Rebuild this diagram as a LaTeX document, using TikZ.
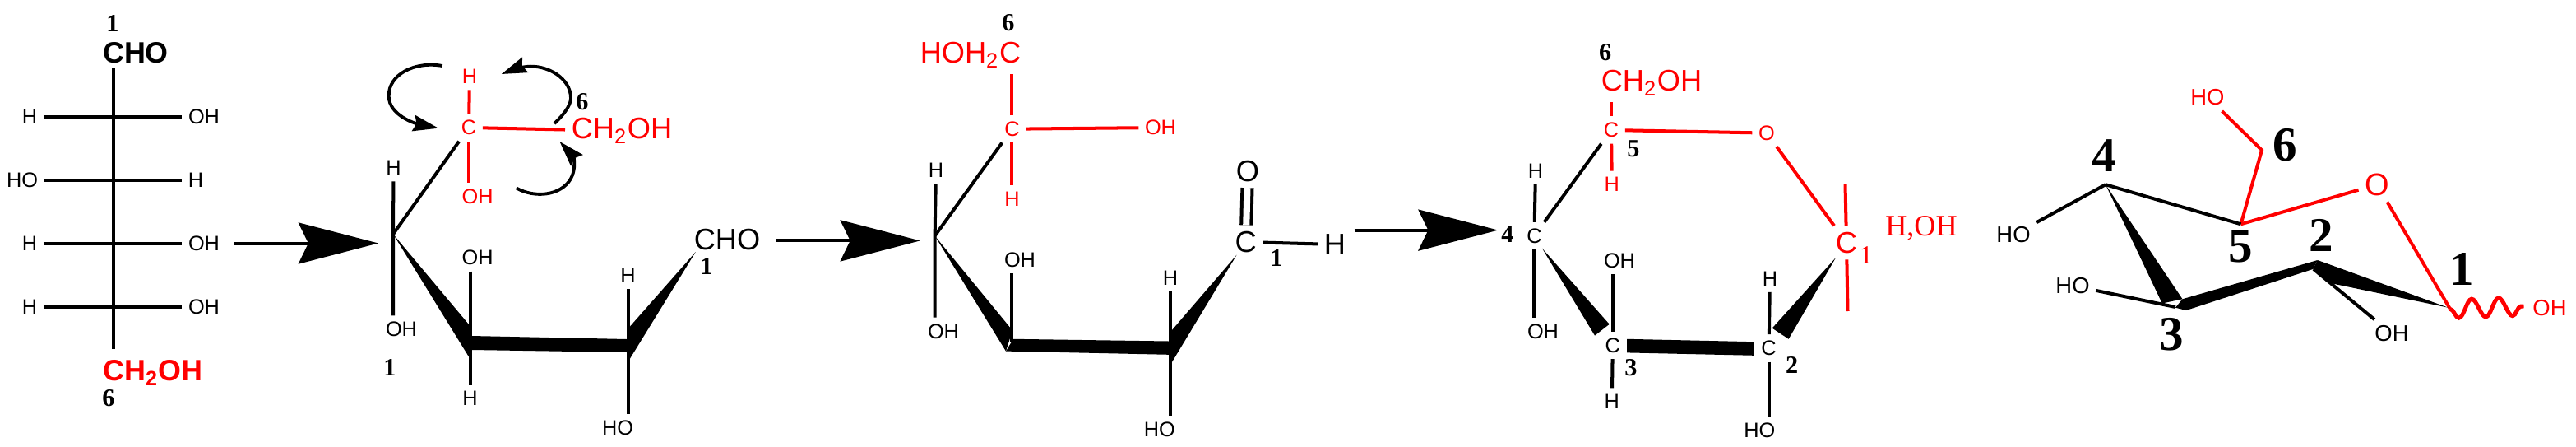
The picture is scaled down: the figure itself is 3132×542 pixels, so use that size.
\documentclass[tikz,border=0pt]{standalone}
\usepackage{fontspec}
\setmainfont{Liberation Sans}
\newfontfamily\numfont{Liberation Serif}
\usetikzlibrary{arrows.meta,decorations.pathmorphing}
\tikzset{
	atom/.style={font=\fontsize{7.2}{8}\selectfont, inner sep=2pt},
	bigatom/.style={font=\fontsize{10.3}{12}\selectfont, inner sep=2pt},
	boldatom/.style={font=\fontsize{10.2}{12}\selectfont\bfseries, inner sep=1.5pt},
	ringatom/.style={font=\fontsize{7.8}{9}\selectfont, inner sep=2pt},
	num/.style={font=\fontsize{8.6}{10}\selectfont\numfont\bfseries, inner sep=0pt},
	bignum/.style={font=\fontsize{16.8}{18}\selectfont\numfont\bfseries, inner sep=0pt},
	serif/.style={font=\fontsize{10.3}{12}\selectfont\numfont, inner sep=0pt},
	bond/.style={line width=1.14pt},
	rbond/.style={line width=1.14pt, red},
	bigarrow/.style={line width=1.14pt, -{Stealth[length=27.6pt,width=14.2pt,inset=3.4pt]}},
	curly/.style={line width=1.1pt, -{Stealth[length=8.7pt,width=5.5pt,inset=1pt]}}
}
\begin{document}
\begin{tikzpicture}[x=0.01cm, y=-0.01cm]
	\useasboundingbox (0,0) rectangle (3132,542);

	\coordinate (ac1) at (138,142);
	\coordinate (ac2) at (138,219);
	\coordinate (ac3) at (138,296);
	\coordinate (ac4) at (138,373);
	\node[boldatom] (acho) at (165,64) {CHO};
	\node[boldatom,red] (ach) at (186,453) {CH\textsubscript{2}OH};
	\node[num] (an1) at (137,29) {1};
	\node[num] (an6) at (132,484) {6};
	\node[atom] (ah1) at (36,142) {H};
	\node[atom] (aoh1) at (248,142) {OH};
	\node[atom] (aho2) at (27,219) {HO};
	\node[atom] (ah2) at (238,219) {H};
	\node[atom] (ah3) at (36,296) {H};
	\node[atom] (aoh3) at (248,296) {OH};
	\node[atom] (ah4) at (36,373) {H};
	\node[atom] (aoh4) at (248,373) {OH};
	\draw[bond,shorten >=2.3pt] (ac1 |- acho.south) -- (ac4 |- ach.north);
	\draw[bond] (ah1) -- (ac1) -- (aoh1);
	\draw[bond] (aho2) -- (ac2) -- (ah2);
	\draw[bond] (ah3) -- (ac3) -- (aoh3);
	\draw[bond] (ah4) -- (ac4) -- (aoh4);

	\coordinate (ar1) at (284,295.5);
	\coordinate (ar2) at (460,295.5);
	\draw[bigarrow] (ar1) -- (ar2);

	\coordinate (b4) at (478,284.4);
	\coordinate (b3) at (572,420);
	\node[atom,red] (bc) at (570,155) {C};
	\node[atom,red] (bh) at (571,93) {H};
	\node[atom,red] (boh) at (580.6,239) {OH};
	\node[bigatom,red] (bch) at (756,159) {CH\textsubscript{2}OH};
	\node[num] (bn6) at (708,124) {6};
	\node[atom] (bh4) at (478.5,204) {H};
	\node[atom] (boh4) at (488,400) {OH};
	\node[num] (bn1) at (474,447) {1};
	\node[atom] (boh3) at (580.6,313) {OH};
	\node[atom] (bh3) at (571.4,484) {H};
	\node[atom] (bh2) at (763.5,335) {H};
	\node[atom] (bho2) at (751,520) {HO};
	\node[bigatom] (bcho) at (884,291) {CHO};
	\node[num] (bn1b) at (859,323.5) {1};
	\draw[rbond] (bh) -- (bc);
	\draw[rbond] (bc) -- (bch);
	\draw[rbond] (bc) -- (bc |- boh.north);
	\draw[bond] (bc) -- (b4);
	\draw[bond] (bh4) -- (b4) -- (b4 |- boh4.north);
	\draw[bond] (boh3.south -| b3) -- (b3 |- bh3.north);
	\draw[bond] (bh2) -- (bh2 |- bho2.north);
	\fill (b4) -- (570.3,394.5) -- (571,435) -- cycle;
	\fill (573,408) -- (762,412) -- (762,428) -- (573,425) -- cycle;
	\fill (845.8,306) -- (764.7,398) -- (763.6,439.4) -- cycle;

	\coordinate (ca1) at (537.8,80);
	\coordinate (ca2) at (533,155.7);
	\coordinate (cb1) at (674,150);
	\coordinate (cb2) at (609.7,90);
	\coordinate (cc1) at (627.7,228.4);
	\coordinate (cc2) at (680.5,172);
	\draw[curly] (ca1) .. controls (505,74) and (472,90) .. (472.7,117) .. controls (473,140) and (505,150) .. (ca2);
	\draw[curly] (cb1) .. controls (690,135) and (694,125) .. (694,119) .. controls (694,95) and (665,78) .. (640,81) .. controls (630,82) and (620,86) .. (cb2);
	\draw[curly] (cc1) .. controls (650,241) and (682,238) .. (694,217) .. controls (701,205) and (697,190) .. (cc2);

	\coordinate (ar3) at (943.5,292.4);
	\coordinate (ar4) at (1118.8,292.4);
	\draw[bigarrow] (ar3) -- (ar4);

	\coordinate (c4) at (1136.6,286.5);
	\node[atom,red] (cc) at (1230.4,156.7) {C};
	\node[bigatom,red] (chohc) at (1180,67) {HOH\textsubscript{2}C};
	\node[num] (cn6) at (1226,27.7) {6};
	\node[atom,red] (coh) at (1411,155) {OH};
	\node[atom,red] (ch) at (1230.4,241.5) {H};
	\node[atom] (ch4) at (1138,207) {H};
	\node[atom] (coh4) at (1147,402.4) {OH};
	\node[atom] (coh3) at (1240,315.6) {OH};
	\node[atom] (ch2) at (1423,337.4) {H};
	\node[atom] (cho2) at (1409.8,521.8) {HO};
	\node[bigatom] (ccar) at (1514.7,294) {C};
	\node[bigatom] (co) at (1517,207.6) {O};
	\node[bigatom] (chb) at (1623,297) {H};
	\node[num] (cn1) at (1551.8,314) {1};
	\draw[rbond] (cc) -- (cc |- chohc.south);
	\draw[rbond] (cc) -- (coh);
	\draw[rbond] (cc) -- (ch);
	\draw[bond] (cc) -- (c4);
	\draw[bond] (ch4) -- (c4) -- (c4 |- coh4.north);
	\draw[bond] (coh3.south -| cc) -- (cc |- 0,415);
	\draw[bond] (ch2) -- (ch2 |- cho2.north);
	\draw[bond,double,double distance=2.3pt] (ccar) -- (co);
	\draw[bond] (ccar) -- (chb);
	\fill (c4) -- (1231,401.4) -- (1223,426.6) -- cycle;
	\fill (1232,411.8) -- (1421,414.5) -- (1421,430.8) -- (1223,426.6) -- cycle;
	\fill (1503.6,309.7) -- (1424.6,401.4) -- (1423,443) -- cycle;

	\coordinate (ar5) at (1646.5,279.6);
	\coordinate (ar6) at (1821.5,279.6);
	\draw[bigarrow] (ar5) -- (ar6);

	\node[atom] (dc4) at (1865.4,286.5) {C};
	\node[atom,red] (dc5) at (1959,158) {C};
	\node[atom] (dc3) at (1960.8,419.4) {C};
	\node[atom] (dc2) at (2150.6,422.8) {C};
	\node[bigatom,red] (dc1) at (2245,294.8) {C};
	\node[bigatom,red] (dch) at (2008,101) {CH\textsubscript{2}OH};
	\node[atom,red] (do) at (2148,161.6) {O};
	\node[atom,red] (dh5) at (1959.8,224) {H};
	\node[atom] (dh4) at (1867,207.6) {H};
	\node[atom] (doh4) at (1876,403) {OH};
	\node[atom] (doh3) at (1969,316.6) {OH};
	\node[atom] (dh3) at (1959.8,487.9) {H};
	\node[atom] (dh2) at (2152,338.4) {H};
	\node[atom] (dho2) at (2139.4,522.5) {HO};
	\node[serif,red] (dhoh) at (2336,276.8) {H,OH};
	\node[serif,red,font=\fontsize{9}{10}\selectfont\numfont] (dn1) at (2269,310.4) {1};
	\node[num] (dn4) at (1833,284.4) {4};
	\node[num] (dn5) at (1985.8,180.6) {5};
	\node[num] (dn6) at (1951.6,64) {6};
	\node[num] (dn3) at (1983,447) {3};
	\node[num] (dn2) at (2178.7,443.6) {2};
	\coordinate (dv1) at (2243.5,223.9);
	\coordinate (dv2) at (2246.5,378);
	\draw[rbond] (dc5) -- (dc5 |- dch.south);
	\draw[rbond] (dc5) -- (do) -- (dc1);
	\draw[rbond] (dc5) -- (dh5);
	\draw[rbond] (dc1) -- (dv1);
	\draw[rbond] (dc1) -- (dv2);
	\draw[bond] (dc4) -- (dc5);
	\draw[bond] (dh4) -- (dc4);
	\draw[bond] (dc4) -- (dc4 |- doh4.north);
	\draw[bond] (doh3.south -| dc3) -- (dc3);
	\draw[bond] (dc3) -- (dh3);
	\draw[bond] (dh2) -- (dc2);
	\draw[bond] (dc2) -- (dc2 |- dho2.north);
	\fill (1875,301.7) -- (1956.7,393.8) -- (1939,407.6) -- cycle;
	\fill (1978,411.8) -- (2132.8,415.2) -- (2132.8,431.8) -- (1978,428.4) -- cycle;
	\fill (2232,313) -- (2154.7,398.6) -- (2174.6,411.8) -- cycle;

	\coordinate (e4) at (2560,224.2);
	\coordinate (e5) at (2724.5,272.3);
	\coordinate (e6) at (2750,182.4);
	\coordinate (e3) at (2645,373);
	\coordinate (e2) at (2813,327);
	\coordinate (e1) at (2979,375.4);
	\coordinate (ew) at (3068.5,372);
	\node[ringatom,red] (eho6) at (2683.8,117.6) {HO};
	\node[bigatom,red,font=\fontsize{10.8}{12}\selectfont] (eo) at (2890,224.2) {O};
	\node[ringatom] (eho4) at (2448,285.5) {HO};
	\node[ringatom] (eho3) at (2520,347) {HO};
	\node[ringatom] (eoh2) at (2908,405.5) {OH};
	\node[ringatom,red] (eoh1) at (3100,373.7) {OH};
	\node[bignum] (en4) at (2558.7,188.6) {4};
	\node[bignum] (en6) at (2778,176.5) {6};
	\node[bignum] (en5) at (2724.5,299.3) {5};
	\node[bignum] (en2) at (2822.5,285.5) {2};
	\node[bignum] (en1) at (2993,327) {1};
	\node[bignum] (en3) at (2640.4,406.6) {3};
	\draw[rbond] (eho6) -- (e6) -- (e5);
	\draw[rbond] (eo) -- (e5);
	\draw[rbond] (eo) -- (e1);
	\draw[bond] (e4) -- (e5);
	\draw[bond] (e4) -- (eho4);
	\draw[bond] (e3) -- (eho3);
	\draw[bond] (e2) -- (eoh2);
	\draw[rbond,line width=1.4pt,decorate,decoration={snake,amplitude=3.2pt,segment length=9.3pt,mirror}] (e1) -- (ew);
	\fill (e4) -- (2653.5,363.3) -- (2628.8,368.5) -- cycle;
	\fill (2653.5,363.3) -- (2817.8,316) -- (2812,327) -- (2658,377) -- (2645,373.7) -- cycle;
	\fill (2817.8,316) -- (2976.6,373.7) -- (2831.8,343.6) -- (2812,327) -- cycle;
\end{tikzpicture}
\end{document}
